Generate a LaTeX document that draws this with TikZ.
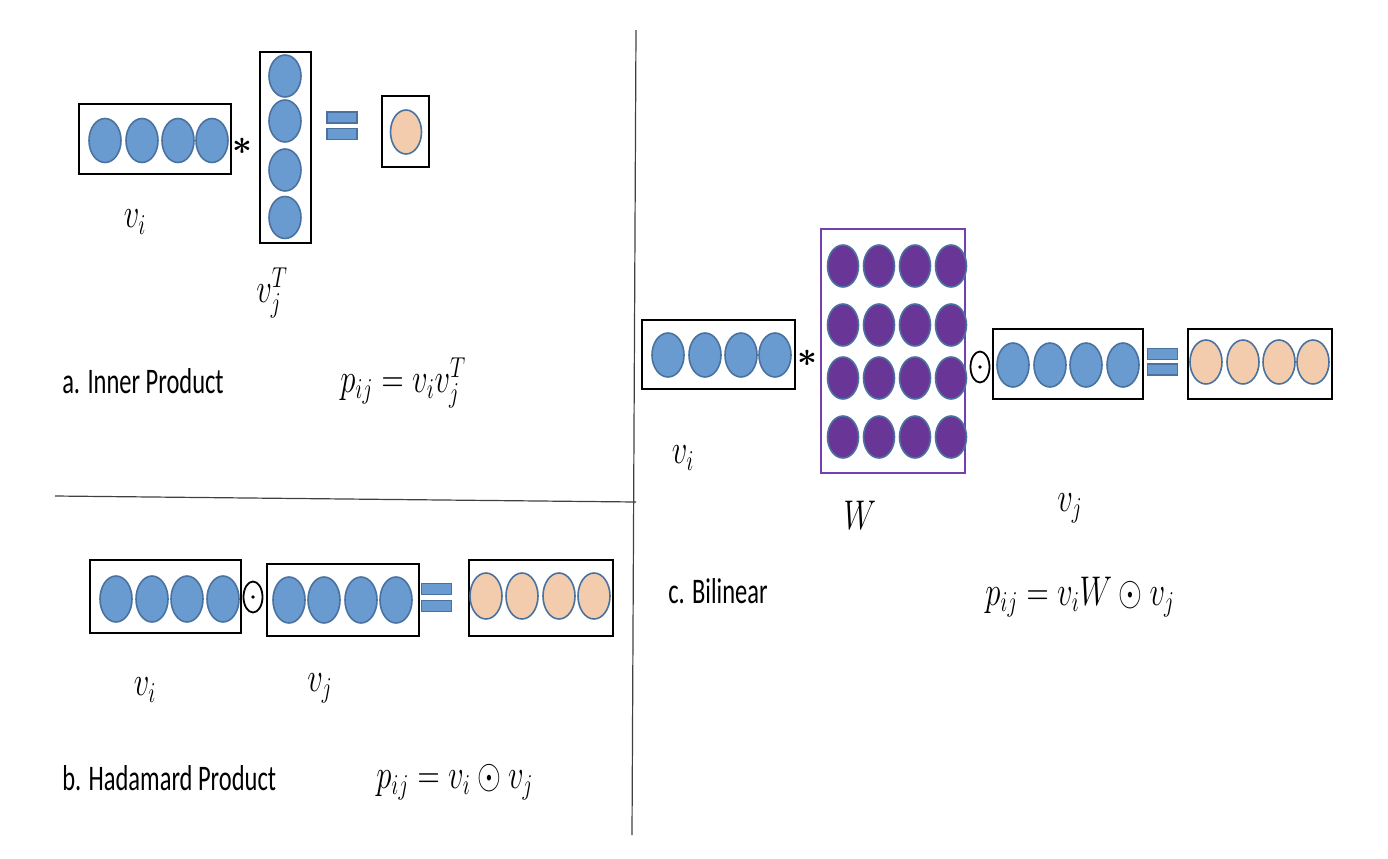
\documentclass[tikz,border=0pt]{standalone}
\usepackage{fontspec}
\newfontfamily\labelfont{Carlito}
\usepackage{xcolor}
\usepackage{tikz}
\usetikzlibrary{positioning,shapes.geometric}

\definecolor{cellblue}{HTML}{6A9BD0}
\definecolor{cellorange}{HTML}{F2CCAC}
\definecolor{cellpurple}{HTML}{693596}
\definecolor{cellline}{HTML}{4A72A0}
\definecolor{wline}{HTML}{7440B0}
\definecolor{divider}{HTML}{404040}

\begin{document}
\begin{tikzpicture}[x=0.5pt, y=-0.5pt,
    cell/.style={ellipse, draw=cellline, line width=0.8pt, minimum width=16pt, minimum height=22pt, inner sep=0pt},
    bluecell/.style={cell, fill=cellblue},
    orangecell/.style={cell, fill=cellorange},
    purplecell/.style={cell, fill=cellpurple, minimum width=15.5pt, minimum height=21pt},
    vecbox/.style={draw, line width=0.8pt, inner sep=0pt},
    eqbar/.style={draw=cellline, fill=cellblue, line width=0.6pt, minimum width=15pt, minimum height=5.5pt, inner sep=0pt},
    hadamard/.style={ellipse, draw, line width=0.9pt, minimum width=9.5pt, minimum height=15.5pt, inner sep=0pt,
        path picture={\fill (path picture bounding box.center) circle (0.9pt);}},
    timesop/.style={inner sep=0pt, font=\fontsize{18}{20}\selectfont\boldmath},
    title/.style={anchor=west, inner sep=0pt, font=\labelfont\fontsize{18}{21}\selectfont, xscale=0.68},
    formula/.style={anchor=west, inner sep=0pt, font=\fontsize{19.5}{22}\selectfont, xscale=0.74},
    veclabel/.style={inner sep=0pt, font=\fontsize{19.5}{22}\selectfont, xscale=0.74}]
    \useasboundingbox (0,0) rectangle (1388,858);

    % Dividers
    \draw[divider, line width=0.6pt] (636,30) -- (632,835);
    \draw[divider, line width=0.6pt] (55,496) -- (636,502);

    % a. Inner Product
    \node[vecbox, minimum width=76pt, minimum height=35pt] (viA) at (155,139) {};
    \foreach \x [count=\k] in {105,142,178,212}
        \node[bluecell] (viA\k) at (\x,140.5) {};
    \node[timesop] (astA) at (242,146) {$\ast$};
    \node[vecbox, minimum width=25.5pt, minimum height=95.5pt] (vjA) at (285.5,147.5) {};
    \foreach \y [count=\k] in {76,121,170,217.5}
        \node[bluecell, minimum height=21pt] (vjA\k) at (285,\y) {};
    \node[eqbar] (eqA1) at (342,117.5) {};
    \node[eqbar] (eqA2) at (342,134) {};
    \node[vecbox, minimum width=23.5pt, minimum height=35.5pt] (resA) at (405.5,131.5) {};
    \node[orangecell, minimum width=15.5pt] (resA1) at (406,132) {};
    \node[veclabel] (lblviA) at (135,222) {$v_i$};
    \node[veclabel] (lblvjA) at (272,293) {$v_j^T$};
    \node[title] (titleA) at (62,381) {a. Inner Product};
    \node[formula] (eqnA) at (340,383) {$p_{ij} = v_i v_j^T$};

    % b. Hadamard Product
    \node[vecbox, minimum width=75.5pt, minimum height=36.5pt] (viB) at (165.5,596.5) {};
    \foreach \x [count=\k] in {116,152,187,223}
        \node[bluecell, minimum height=23pt] (viB\k) at (\x,599) {};
    \node[hadamard] (odotB) at (253,597) {};
    \node[vecbox, minimum width=76pt, minimum height=36pt] (vjB) at (343,600) {};
    \foreach \x [count=\k] in {289,324,361,396}
        \node[bluecell, minimum height=23pt] (vjB\k) at (\x,600) {};
    \node[eqbar] (eqB1) at (436.5,589) {};
    \node[eqbar] (eqB2) at (436.5,606) {};
    \node[vecbox, minimum width=72pt, minimum height=38pt] (resB) at (541,598) {};
    \foreach \x [count=\k] in {486,522,559,594}
        \node[orangecell, minimum height=23pt] (resB\k) at (\x,596) {};
    \node[veclabel] (lblviB) at (145,690) {$v_i$};
    \node[veclabel] (lblvjB) at (320,688) {$v_j$};
    \node[title] (titleB) at (62,778) {b. Hadamard Product};
    \node[formula] (eqnB) at (376,782) {$p_{ij} = v_i \odot v_j$};

    % c. Bilinear
    \node[vecbox, minimum width=76.5pt, minimum height=34.5pt] (viC) at (718.5,354.5) {};
    \foreach \x [count=\k] in {668,705,741,775}
        \node[bluecell] (viC\k) at (\x,355) {};
    \node[timesop] (astC) at (807,358) {$\ast$};
    \node[draw=wline, line width=0.8pt, inner sep=0pt, minimum width=72pt, minimum height=122pt] (W) at (893,351) {};
    \foreach \y [count=\r] in {266,325,378,437}
        \foreach \x [count=\c] in {843,879,915,951}
            \node[purplecell] (W\r\c) at (\x,\y) {};
    \node[hadamard] (odotC) at (980,367) {};
    \node[vecbox, minimum width=75pt, minimum height=35pt] (vjC) at (1068,364) {};
    \foreach \x [count=\k] in {1013,1050,1086,1123}
        \node[bluecell] (vjC\k) at (\x,365) {};
    \node[eqbar] (eqC1) at (1162.5,354) {};
    \node[eqbar] (eqC2) at (1162.5,369.5) {};
    \node[vecbox, minimum width=72pt, minimum height=35pt] (resC) at (1260,364) {};
    \foreach \x [count=\k] in {1206,1243,1279,1313}
        \node[orangecell] (resC\k) at (\x,362) {};
    \node[veclabel] (lblviC) at (683,458) {$v_i$};
    \node[veclabel] (lblW) at (860,515) {$W$};
    \node[veclabel] (lblvjC) at (1070,508) {$v_j$};
    \node[title] (titleC) at (668,591) {c. Bilinear};
    \node[formula] (eqnC) at (985,597) {$p_{ij} = v_i W \odot v_j$};
\end{tikzpicture}
\end{document}
